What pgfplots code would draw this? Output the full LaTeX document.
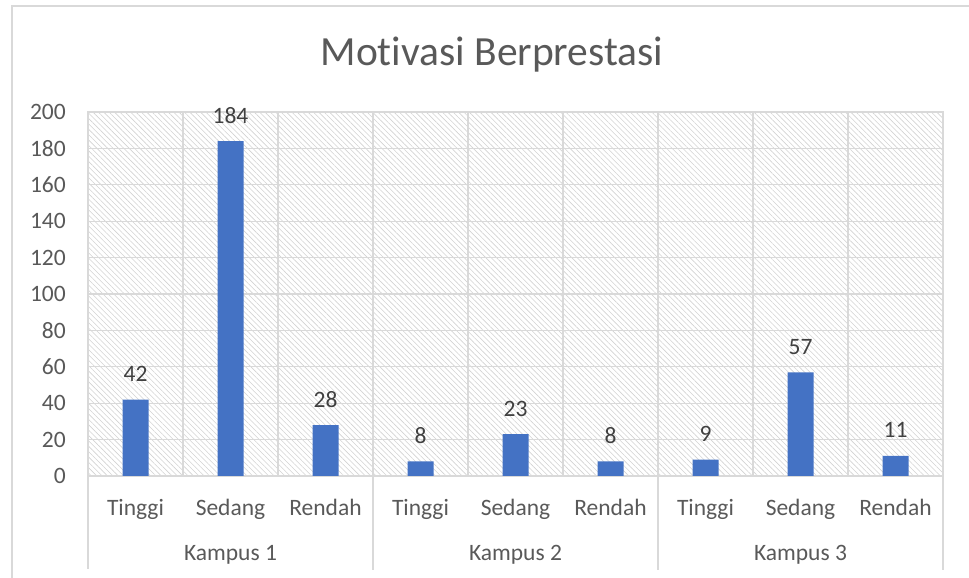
\documentclass[border=0pt]{standalone}
\usepackage{pgfplots}
\pgfplotsset{compat=1.18}
\usepackage{fontspec}
\setmainfont[Ligatures={NoCommon}]{Carlito}
\usetikzlibrary{patterns.meta}
\definecolor{barc}{HTML}{4472C4}
\definecolor{txt}{HTML}{595959}
\definecolor{lbl}{HTML}{404040}
\definecolor{grd}{HTML}{D9D9D9}
\definecolor{hatch}{HTML}{D2D2D2}
\pgfplotsset{/pgf/number format/assume math mode=true}
\begin{document}
\begin{tikzpicture}[x=1bp,y=1bp]
\useasboundingbox (0,0) rectangle (969,578);
\draw[grd, line width=1.2bp] (12,0) -- (12,572) -- (969,572);
\node[txt, font=\fontsize{41.5bp}{48bp}\selectfont] at (492,523) {Motivasi Berprestasi};
\begin{axis}[
  at={(88bp,102bp)}, anchor=south west, scale only axis,
  width=855bp, height=364bp,
  xmin=-0.5, xmax=8.5, ymin=0, ymax=200,
  ytick={0,20,...,200},
  xtick={0,...,8},
  xticklabels={Tinggi,Sedang,Rendah,Tinggi,Sedang,Rendah,Tinggi,Sedang,Rendah},
  extra x ticks={-0.5,0.5,...,8.5},
  extra x tick labels={},
  extra x tick style={grid=major},
  ymajorgrids,
  grid style={grd, line width=1.2bp},
  axis line style={grd, line width=1.2bp},
  major tick length=0pt,
  tick label style={txt, font=\fontsize{23.5bp}{28bp}\selectfont, inner sep=0pt},
  xticklabel style={anchor=base, yshift=-40bp},
  yticklabel style={anchor=east, xshift=-22bp},
  axis background/.style={pattern={Lines[angle=-45,distance=3.8bp,line width=0.6bp]}, pattern color=hatch},
  clip=false,
  ybar, bar width=26bp,
  nodes near coords,
  every node near coord/.append style={lbl, font=\fontsize{23.5bp}{28bp}\selectfont, anchor=base, yshift=18bp, inner sep=0pt},
]
\addplot[fill=barc, draw=none] coordinates {(0,42) (1,184) (2,28) (3,8) (4,23) (5,8) (6,9) (7,57) (8,11)};
\draw[grd, line width=1.2bp] (axis cs:-0.5,0) -- ([yshift=-93bp]axis cs:-0.5,0);
\draw[grd, line width=1.2bp] (axis cs:2.5,0) -- ([yshift=-94bp]axis cs:2.5,0);
\draw[grd, line width=1.2bp] (axis cs:5.5,0) -- ([yshift=-94bp]axis cs:5.5,0);
\draw[grd, line width=1.2bp] (axis cs:8.5,0) -- ([yshift=-94bp]axis cs:8.5,0);
\node[txt, anchor=base, font=\fontsize{23.5bp}{28bp}\selectfont, yshift=-85bp] at (axis cs:1,0) {Kampus 1};
\node[txt, anchor=base, font=\fontsize{23.5bp}{28bp}\selectfont, yshift=-85bp] at (axis cs:4,0) {Kampus 2};
\node[txt, anchor=base, font=\fontsize{23.5bp}{28bp}\selectfont, yshift=-85bp] at (axis cs:7,0) {Kampus 3};
\end{axis}
\end{tikzpicture}
\end{document}
